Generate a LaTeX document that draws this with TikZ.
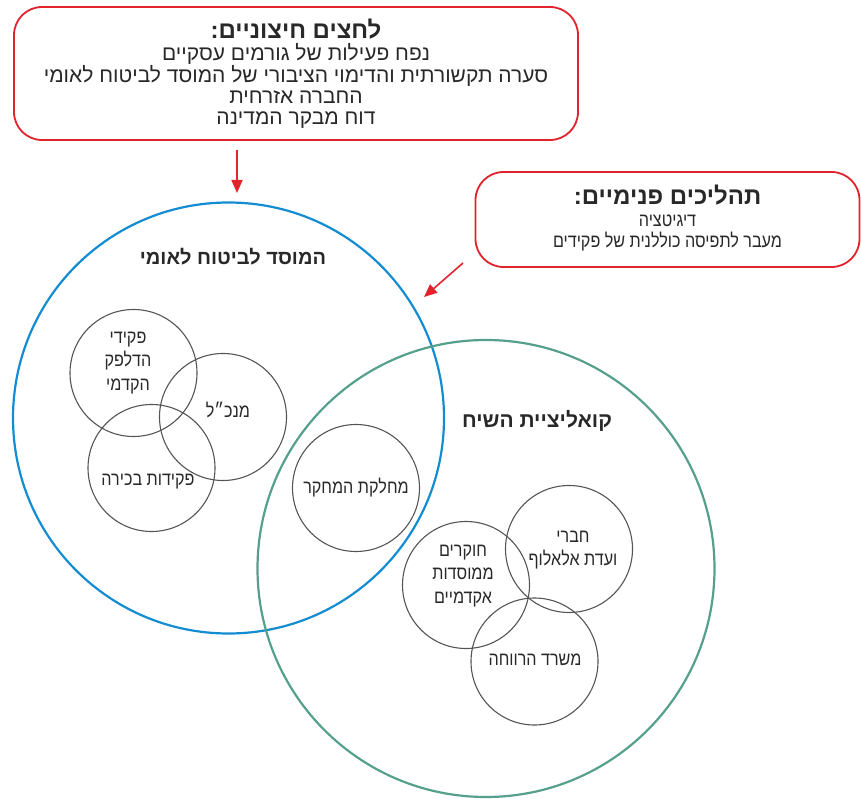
\documentclass[tikz,border=0pt]{standalone}
\usepackage{fontspec}
\setmainfont{Liberation Sans}
\newfontfamily\heb[Script=Hebrew]{Liberation Sans}
\newfontfamily\hebnarrow[Script=Hebrew,FakeStretch=0.85]{Liberation Sans}
\TeXXeTstate=1
\usetikzlibrary{arrows.meta}
\definecolor{bluec}{RGB}{20,140,210}
\definecolor{greenc}{RGB}{85,160,140}
\definecolor{redc}{RGB}{225,35,45}
\definecolor{grayc}{RGB}{85,85,85}
\definecolor{txt}{RGB}{40,40,40}
\newcommand{\RL}[1]{\beginR #1\endR}
\begin{document}
\begin{tikzpicture}[x=1pt,y=-1pt,
  bigcirc/.style={circle, draw, line width=2.2pt, inner sep=0pt},
  smallc/.style={circle, draw=grayc, line width=1.1pt, minimum size=127pt, inner sep=0pt},
  redbox/.style={draw=redc, line width=1.8pt, rounded corners=28pt, inner sep=0pt},
  boxtext/.style={text=txt, align=center, font=\heb\fontsize{21}{21}\selectfont},
  boxtextn/.style={text=txt, align=center, font=\hebnarrow\fontsize{19}{21.5}\selectfont},
  lab/.style={text=txt, align=center, font=\hebnarrow\fontsize{19}{23.5}\selectfont},
  titl/.style={text=txt, font=\heb\bfseries\fontsize{20}{22}\selectfont},
  redarrow/.style={draw=redc, line width=1.6pt, -{Triangle[length=13pt,width=11pt]}}]

\useasboundingbox (0,0) rectangle (861,799);

% big circles
\node[bigcirc, draw=bluec, minimum size=431pt] (nii) at (228.5,418) {};
\node[bigcirc, draw=greenc, minimum size=457pt] (coal) at (486,568.5) {};

\node[titl] (niit) at (233,257) {\RL{המוסד לביטוח לאומי}};
\node[titl, font=\heb\bfseries\fontsize{21}{22}\selectfont] (coalt) at (537,421) {\RL{קואליציית השיח}};

% small circles, NII
\node[smallc] (front) at (133.5,373) {};
\node[lab] (frontt) at (128,363) {\RL{פקידי}\\\RL{הדלפק}\\\RL{הקדמי}};
\node[smallc] (ceo) at (223,417) {};
\node[lab] (ceot) at (228,410) {\RL{מנכ״ל}};
\node[smallc] (senior) at (151.5,468) {};
\node[lab] (seniort) at (148,482) {\RL{פקידות בכירה}};
\node[smallc] (research) at (356,488) {};
\node[lab] (researcht) at (356,488) {\RL{מחלקת המחקר}};

% small circles, coalition
\node[smallc] (acad) at (466,585) {};
\node[lab] (acadt) at (463,576) {\RL{חוקרים}\\\RL{ממוסדות}\\\RL{אקדמיים}};
\node[smallc] (alaluf) at (569,549) {};
\node[lab] (alaluft) at (573,550) {\RL{חברי}\\\RL{ועדת אלאלוף}};
\node[smallc] (welfare) at (534.5,661.5) {};
\node[lab] (welfaret) at (535,660) {\RL{משרד הרווחה}};

% boxes
\node[redbox, minimum width=564pt, minimum height=133pt] (ext) at (296,73.5) {};
\node[boxtext] (extt) at (296,73.5) {{\bfseries\fontsize{24}{21}\selectfont\RL{לחצים חיצוניים:}}\\[1pt]\RL{נפח פעילות של גורמים עסקיים}\\\RL{סערה תקשורתית והדימוי הציבורי של המוסד לביטוח לאומי}\\\RL{החברה אזרחית}\\\RL{דוח מבקר המדינה}};

\node[redbox, minimum width=384pt, minimum height=95pt] (int) at (667.5,219.5) {};
\node[boxtextn] (intt) at (667.5,218.5) {{\heb\bfseries\fontsize{24}{21}\selectfont\RL{תהליכים פנימיים:}}\\\RL{דיגיטציה}\\\RL{מעבר לתפיסה כוללנית של פקידים}};

% arrows
\coordinate (a1s) at (237,150);
\coordinate (a1e) at (237,193);
\coordinate (a2s) at (463,263);
\coordinate (a2e) at (424,297);
\draw[redarrow] (a1s) -- (a1e);
\draw[redarrow] (a2s) -- (a2e);
\end{tikzpicture}
\end{document}
